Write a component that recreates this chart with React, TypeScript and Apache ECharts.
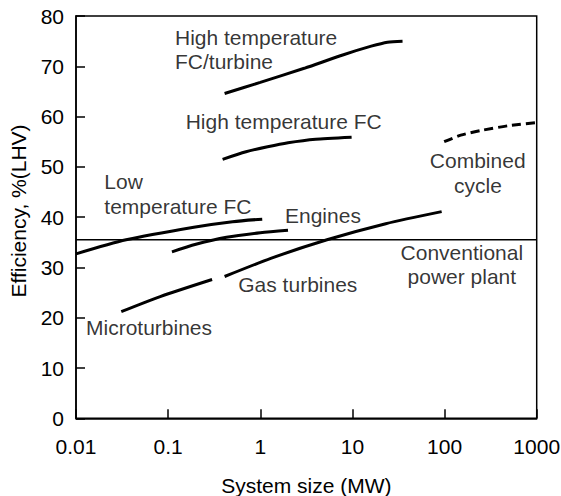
import React, { useEffect, useRef } from "react";
import * as echarts from "echarts";

const xTicks = [0.01, 0.1, 1, 10, 100, 1000];
const yTicks = [0, 10, 20, 30, 40, 50, 60, 70, 80];

const hiTempFcTurbine: [number, number][] = [
  [0.41, 64.6], [1, 66.8], [3, 69.6], [8, 72.3], [16, 74.0], [24, 74.8], [35, 75.0],
];
const hiTempFc: [number, number][] = [
  [0.39, 51.5], [0.7, 53.0], [1.2, 54.0], [2, 54.8], [4, 55.5], [9.8, 55.9],
];
const lowTempFc: [number, number][] = [
  [0.01, 32.7], [0.035, 35.5], [0.19, 38.0], [0.5, 39.1], [1.05, 39.6],
];
const engines: [number, number][] = [
  [0.11, 33.1], [0.2, 34.6], [0.43, 36.0], [1, 36.9], [2, 37.4],
];
const microturbines: [number, number][] = [
  [0.031, 21.2], [0.082, 24.2], [0.3, 27.6],
];
const gasTurbines: [number, number][] = [
  [0.41, 28.2], [1.3, 31.8], [5.3, 35.5], [23, 38.7], [93, 41.1],
];
const combinedCycle: [number, number][] = [
  [99, 55.0], [150, 56.3], [260, 57.3], [500, 58.2], [1000, 58.8],
];
const conventional: [number, number][] = [
  [0.01, 35.5], [1000, 35.5],
];

// annotation labels: [x, y, text, align]
const labels: [number, number, string, string][] = [
  [0.1187, 75.8, "High temperature", "left"],
  [0.1187, 70.9, "FC/turbine", "left"],
  [0.155, 59.1, "High temperature FC", "left"],
  [0.0203, 47.0, "Low", "left"],
  [0.0203, 42.2, "temperature FC", "left"],
  [1.855, 40.4, "Engines", "left"],
  [0.577, 26.6, "Gas turbines", "left"],
  [0.01284, 18.0, "Microturbines", "left"],
  [229, 51.2, "Combined", "center"],
  [230, 46.3, "cycle", "center"],
  [154, 33.0, "Conventional", "center"],
  [154, 28.1, "power plant", "center"],
];

const FONT = "'Liberation Sans', Arial, Helvetica, sans-serif";
const INK = "#000";

export default function App() {
  const ref = useRef<HTMLDivElement>(null);
  useEffect(() => {
    if (!ref.current) return;
    const chart = echarts.init(ref.current, undefined, { renderer: "svg" });
    const curve = (name: string, data: [number, number][], dashed = false) => ({
      name,
      type: "line",
      data,
      smooth: 0.25,
      symbol: "none",
      lineStyle: { color: INK, width: 3, type: dashed ? [9, 5] : "solid", cap: "butt" },
      z: 3,
    });
    chart.setOption({
      animation: false,
      backgroundColor: "#fff",
      textStyle: { fontFamily: FONT },
      grid: {
        left: 76,
        right: 24.3,
        top: 16,
        bottom: 77.7,
        show: true,
        borderColor: INK,
        borderWidth: 1.5,
        containLabel: false,
        outerBoundsMode: "none",
      },
      xAxis: {
        type: "log",
        logBase: 10,
        min: xTicks[0],
        max: xTicks[xTicks.length - 1],
        name: "System size (MW)",
        nameLocation: "middle",
        nameGap: 57,
        nameTextStyle: { fontSize: 21, color: INK, fontFamily: FONT },
        axisLine: { lineStyle: { color: INK, width: 1.5 } },
        axisTick: { inside: true, length: 9, lineStyle: { color: INK, width: 1.5 } },
        splitLine: { show: false },
        minorTick: { show: false },
        axisLabel: {
          fontSize: 21,
          color: INK,
          margin: 18,
          fontFamily: FONT,
          formatter: (v: number) => String(+Number(v).toPrecision(3)),
        },
      },
      yAxis: {
        type: "value",
        min: yTicks[0],
        max: yTicks[yTicks.length - 1],
        interval: 10,
        axisLine: { show: true, lineStyle: { color: INK, width: 1.5 } },
        axisTick: { show: true, inside: true, length: 9, lineStyle: { color: INK, width: 1.5 } },
        splitLine: { show: false },
        axisLabel: { fontSize: 21, color: INK, margin: 12, fontFamily: FONT },
      },
      graphic: [
        {
          type: "text",
          x: 18,
          y: 211,
          rotation: Math.PI / 2,
          style: {
            text: "Efficiency, %(LHV)",
            fontSize: 21,
            fontFamily: FONT,
            fill: INK,
            align: "center",
            verticalAlign: "middle",
          },
        },
      ],
      series: [
        {
          name: "Conventional power plant",
          type: "line",
          data: conventional,
          symbol: "none",
          lineStyle: { color: INK, width: 1.5 },
          z: 2,
        },
        curve("High temperature FC/turbine", hiTempFcTurbine),
        curve("High temperature FC", hiTempFc),
        curve("Low temperature FC", lowTempFc),
        curve("Engines", engines),
        curve("Microturbines", microturbines),
        curve("Gas turbines", gasTurbines),
        curve("Combined cycle", combinedCycle, true),
        {
          name: "labels",
          type: "scatter",
          symbolSize: 1,
          itemStyle: { color: "rgba(0,0,0,0)" },
          silent: true,
          z: 5,
          data: labels.map(([x, y, t, a]) => ({
            value: [x, y],
            label: {
              show: true,
              position: "inside",
              formatter: t,
              align: a,
              verticalAlign: "middle",
              fontSize: 21,
              color: INK,
              fontFamily: FONT,
            },
          })),
        },
      ],
    });
    return () => chart.dispose();
  }, []);
  return (
    <div
      ref={ref}
      style={{ position: "fixed", left: 0, top: 0, width: 561, height: 496, background: "#fff" }}
    />
  );
}
